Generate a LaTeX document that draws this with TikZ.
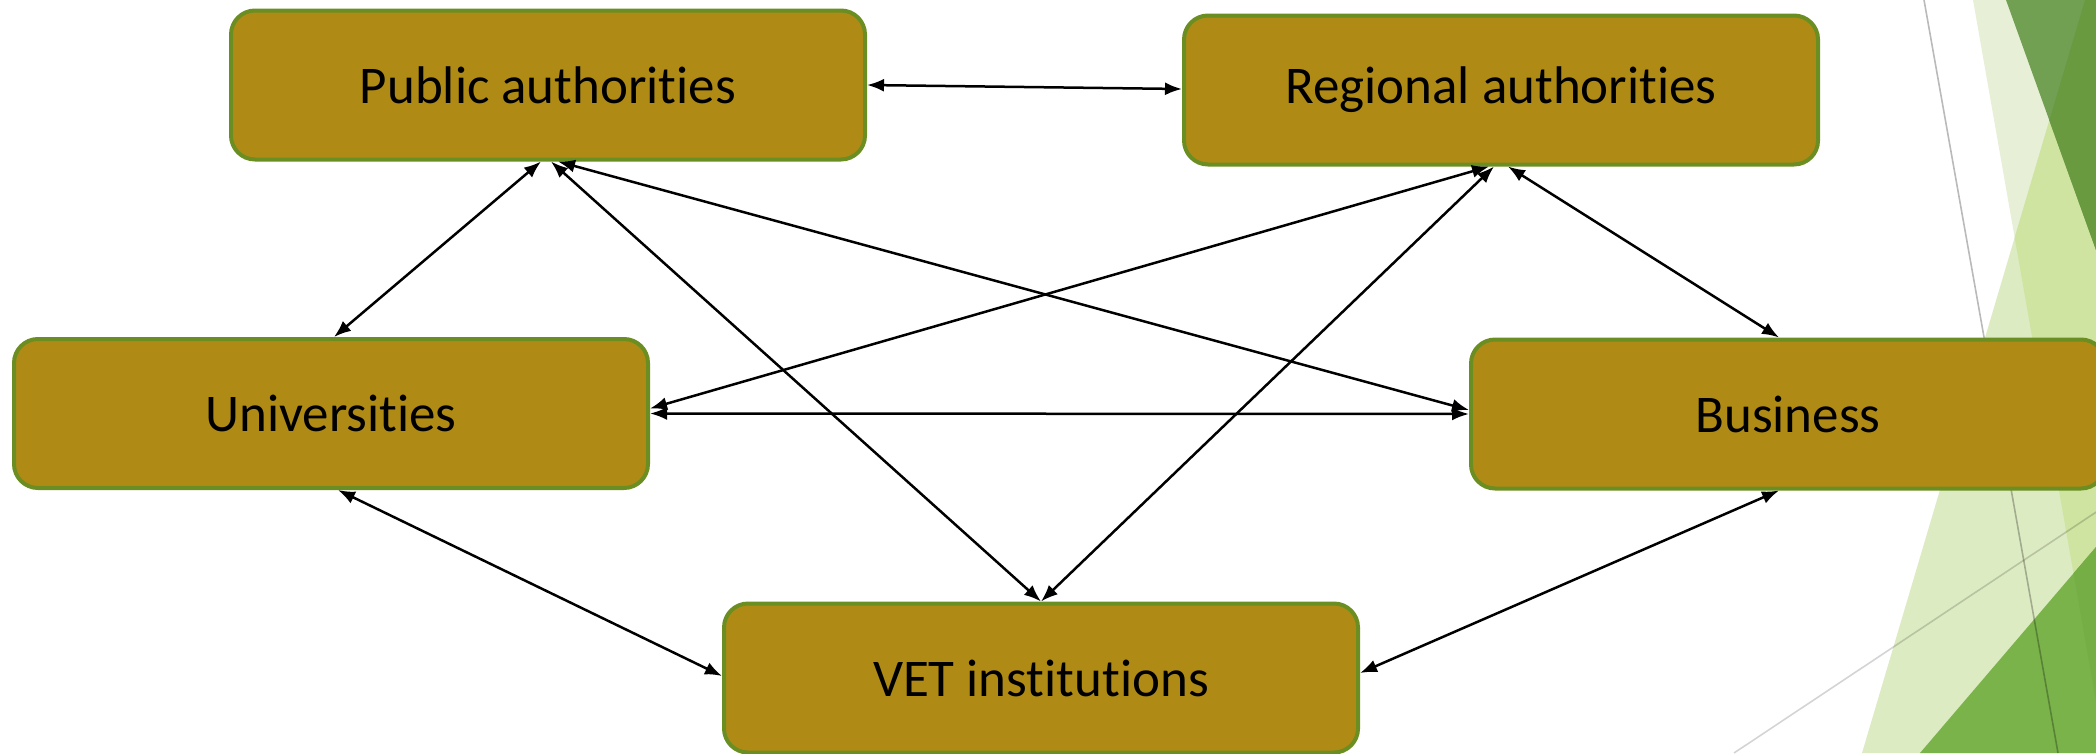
\documentclass[tikz,border=0pt]{standalone}
\usepackage{fontspec}
\setmainfont[Ligatures={NoCommon}]{Carlito}
\usetikzlibrary{arrows.meta,calc}
\definecolor{boxfill}{HTML}{AF8B15}
\definecolor{boxline}{HTML}{6B8E23}
\definecolor{bandgreen}{HTML}{E7F0D6}
\definecolor{paletri}{HTML}{DDEBC2}
\definecolor{paleover}{HTML}{CEE4A0}
\definecolor{darktri}{HTML}{72A052}
\definecolor{darkover}{HTML}{6A9A40}
\definecolor{midtri}{HTML}{7AB34A}
\definecolor{midover}{HTML}{74AE44}
\begin{document}
\begin{tikzpicture}[x=1pt,y=-1pt,
  actor/.style={draw=boxline, line width=4pt, fill=boxfill, rounded corners=24pt,
    minimum width=634pt, minimum height=149pt, inner sep=0pt,
    font=\fontsize{53}{60}\selectfont, text=black},
  link/.style={{Latex[length=17pt,width=13pt]}-{Latex[length=17pt,width=13pt]},
    line width=2.5pt, draw=black},
  hairline/.style={line width=1.6pt, draw=black}]
\useasboundingbox (0,0) rectangle (2096,753);
% background decoration
\fill[bandgreen] (1973,0) -- (2200,0) -- (2200,753) -- (2105,753) -- cycle;
\fill[paletri] (2085,0) -- (2200,0) -- (2200,753) -- (1862,753) -- cycle;
\begin{scope}
  \clip (1973,0) -- (2200,0) -- (2200,753) -- (2105,753) -- cycle;
  \fill[paleover] (2085,0) -- (2200,0) -- (2200,753) -- (1862,753) -- cycle;
\end{scope}
\fill[darktri] (2006,0) -- (2200,0) -- (2200,539) -- cycle;
\begin{scope}
  \clip (2085,0) -- (2200,0) -- (2200,753) -- (1862,753) -- cycle;
  \fill[darkover] (2006,0) -- (2200,0) -- (2200,539) -- cycle;
\end{scope}
\fill[midtri] (1920,753) -- (2096,547) -- (2200,425) -- (2200,753) -- cycle;
\begin{scope}
  \clip (1973,0) -- (2200,0) -- (2200,753) -- (2105,753) -- cycle;
  \fill[midover] (1920,753) -- (2096,547) -- (2200,425) -- (2200,753) -- cycle;
\end{scope}
\draw[hairline, draw opacity=0.27] (1924,0) -- (2058,753);
\draw[hairline, draw opacity=0.17] (1734,753) -- (2200,443);
% nodes
\node[actor] (pa) at (548,85) {Public authorities};
\node[actor] (ra) at (1501,90) {Regional authorities};
\node[actor] (un) at (331,413.5) {Universities};
\node[actor] (bu) at (1788,414) {Business};
\node[actor] (ve) at (1041,678) {VET institutions};
% connectors
\draw[link] (pa.east) -- ($(ra.west)+(0,-1)$);
\draw[link] ($(pa.south)+(-7,0)$) -- ($(un.north)+(3,0)$);
\draw[link] ($(pa.south)+(3,0)$) -- (ve.north);
\draw[link] ($(pa.south)+(10,0)$) -- ($(bu.west)+(0,-4)$);
\draw[link] ($(ra.south)+(-12,0)$) -- ($(un.east)+(0,-5)$);
\draw[link] ($(ra.south)+(-7,0)$) -- (ve.north);
\draw[link] ($(ra.south)+(7,0)$) -- ($(bu.north)+(-9,0)$);
\draw[link] (un.east) -- (bu.west);
\draw[link] ($(un.south)+(7,0)$) -- ($(ve.west)+(0,-2)$);
\draw[link] ($(bu.south)+(-9,0)$) -- ($(ve.east)+(0,-5)$);
\end{tikzpicture}
\end{document}
